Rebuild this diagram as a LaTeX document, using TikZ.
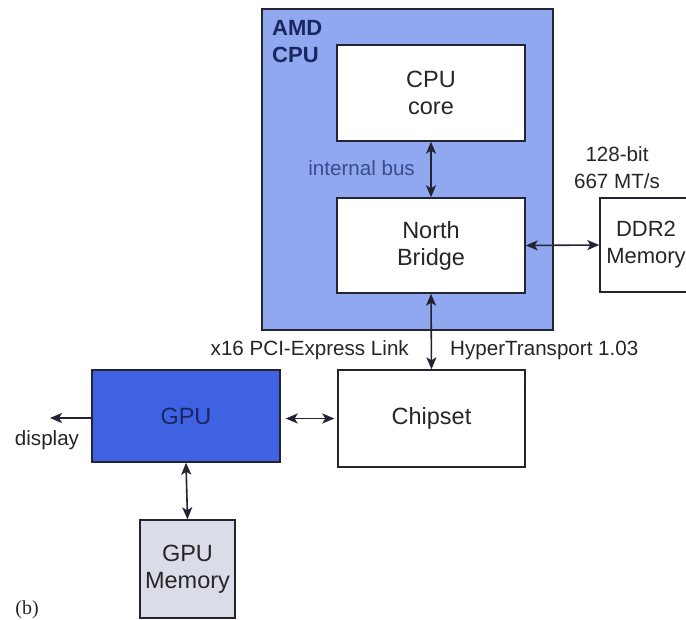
\documentclass[tikz,border=0pt]{standalone}
\usepackage{fontspec}
\setmainfont{Liberation Sans}
\newfontfamily\seriffont{Liberation Serif}
\usetikzlibrary{arrows.meta}
\definecolor{cpufill}{RGB}{143,168,240}
\definecolor{gpufill}{RGB}{62,98,226}
\definecolor{memfill}{RGB}{218,220,232}
\definecolor{navy}{RGB}{25,38,95}
\definecolor{busblue}{RGB}{60,75,140}
\definecolor{edge}{RGB}{35,35,50}
\begin{document}
\begin{tikzpicture}[x=1pt,y=-1pt,
  box/.style={draw=edge,line width=1.4pt,rectangle,inner sep=0pt,align=center,font=\fontsize{23.5}{27}\selectfont,text=black!85},
  conn/.style={line width=1.6pt,draw=edge,{Stealth[length=12pt,width=10pt,inset=3pt]}-{Stealth[length=12pt,width=10pt,inset=3pt]}},
  oneway/.style={line width=1.6pt,draw=edge,-{Stealth[length=12pt,width=10pt,inset=3pt]}},
  lbl/.style={font=\fontsize{20.6}{27}\selectfont,text=black!85,inner sep=0pt}]
\useasboundingbox (0,0) rectangle (686,620);
\fill[white] (0,0) rectangle (686,620);
\node[box,fill=cpufill,minimum width=291pt,minimum height=321pt] (amd) at (407.5,169.5) {};
\node[anchor=north west,align=left,inner sep=0pt,font=\fontsize{22}{27}\selectfont\bfseries,text=navy] (amdlbl) at (272,20) {AMD\\CPU};
\node[box,fill=white,minimum width=188pt,minimum height=96pt] (core) at (431,93) {CPU\\core};
\node[box,fill=white,minimum width=188pt,minimum height=95pt] (nb) at (431,245.5) {North\\Bridge};
\node[lbl,text=busblue,anchor=east] (bus) at (415,168) {internal bus};
\node[box,fill=white,minimum width=92pt,minimum height=94pt,font=\fontsize{22}{27}\selectfont] (ddr) at (646,245) {DDR2\\Memory};
\node[lbl,align=center] (bw) at (617,168) {128-bit\\667 MT/s};
\node[box,fill=white,minimum width=187pt,minimum height=97pt] (chip) at (431.5,418.5) {Chipset};
\node[box,fill=gpufill,text=navy,minimum width=188pt,minimum height=92pt] (gpu) at (186,416) {GPU};
\node[box,fill=memfill,minimum width=95pt,minimum height=98pt] (gmem) at (187.5,569) {GPU\\Memory};
\node[lbl,anchor=east] (pci) at (409,350) {x16 PCI-Express Link};
\node[lbl,anchor=west] (ht) at (450,350) {HyperTransport 1.03};
\node[lbl] (disp) at (47,440) {display};
\node[inner sep=0pt,font=\seriffont\fontsize{20}{22}\selectfont,text=black!85] (b) at (27,610) {(b)};
\coordinate (dispend) at (50,418);
\draw[conn] (core.south) -- (nb.north);
\draw[conn] (nb.east) -- (ddr.west);
\draw[conn] (nb.south) -- (chip.north);
\draw[conn] ([xshift=5pt]gpu.east |- chip.west) -- ([xshift=-3pt]chip.west);
\draw[oneway] (gpu.west |- dispend) -- (dispend);
\draw[conn] (gpu.south) -- (gmem.north);
\end{tikzpicture}
\end{document}
